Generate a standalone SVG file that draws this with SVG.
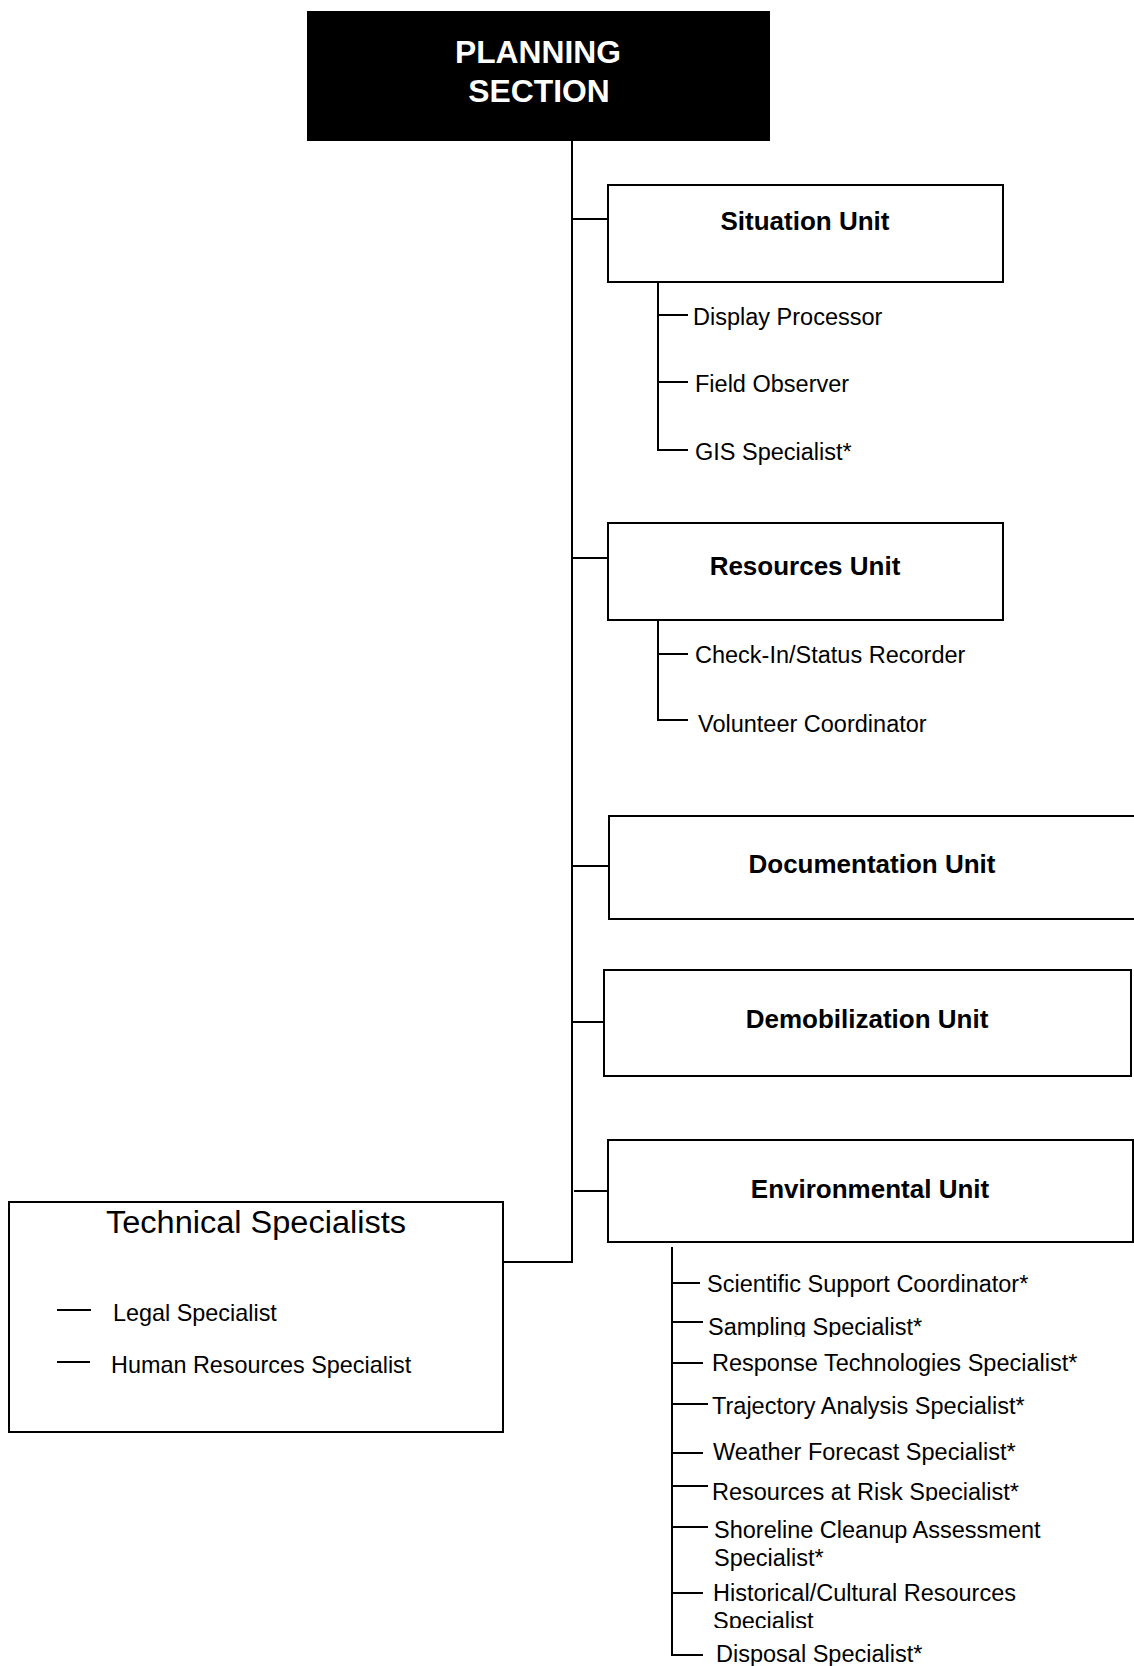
<svg xmlns="http://www.w3.org/2000/svg" width="1134" height="1666" viewBox="0 0 1134 1666">
<style>
.box{fill:#fff;stroke:#000;stroke-width:2}
.ln{stroke:#000;stroke-width:2;fill:none}
.t{font-family:"Liberation Sans",Arial,sans-serif;font-size:23.5px;fill:#000}
.u{font-family:"Liberation Sans",Arial,sans-serif;font-size:26px;font-weight:bold;fill:#000;text-anchor:middle}
.h{font-family:"Liberation Sans",Arial,sans-serif;font-size:31.8px;font-weight:bold;fill:#fff;text-anchor:middle}
</style>
<defs>
<clipPath id="c1"><rect x="600" y="1300" width="534" height="37"/></clipPath>
<clipPath id="c2"><rect x="600" y="1470" width="534" height="31"/></clipPath>
<clipPath id="c3"><rect x="600" y="1570" width="534" height="58"/></clipPath>
</defs>
<rect width="1134" height="1666" fill="#fff"/>
<g id="connectors">
<line class="ln" x1="572" y1="141" x2="572" y2="1263"/>
<line class="ln" x1="572" y1="219" x2="608" y2="219"/>
<line class="ln" x1="572" y1="558" x2="608" y2="558"/>
<line class="ln" x1="572" y1="866" x2="609" y2="866"/>
<line class="ln" x1="572" y1="1022" x2="604" y2="1022"/>
<line class="ln" x1="574" y1="1191" x2="608" y2="1191"/>
<line class="ln" x1="503" y1="1262" x2="573" y2="1262"/>
<path class="ln" d="M658 282V450H688M658 315H688M658 382H688"/>
<path class="ln" d="M658 620V720H688M658 654H688"/>
<path class="ln" d="M672 1247V1655H703M672 1283H700M672 1322H703M672 1363H703M672 1404H708M672 1453H703M672 1486H708M672 1527H708M672 1593H703"/>
</g>
<g id="planning">
<rect x="307" y="11" width="463" height="130" fill="#000"/>
<text class="h" x="538" y="63">PLANNING</text>
<text class="h" x="539" y="102">SECTION</text>
</g>
<g id="situation">
<rect class="box" x="608" y="185" width="395" height="97"/>
<text class="u" x="805" y="230">Situation Unit</text>
</g>
<g id="situation-staff">
<text class="t" x="693" y="325">Display Processor</text>
<text class="t" x="695" y="392">Field Observer</text>
<text class="t" x="695" y="460">GIS Specialist*</text>
</g>
<g id="resources">
<rect class="box" x="608" y="523" width="395" height="97"/>
<text class="u" x="805" y="575">Resources Unit</text>
</g>
<g id="resources-staff">
<text class="t" x="695" y="663">Check-In/Status Recorder</text>
<text class="t" x="698" y="732">Volunteer Coordinator</text>
</g>
<g id="documentation">
<rect class="box" x="609" y="816" width="540" height="103"/>
<text class="u" x="872" y="873">Documentation Unit</text>
</g>
<g id="demobilization">
<rect class="box" x="604" y="970" width="527" height="106"/>
<text class="u" x="867" y="1028">Demobilization Unit</text>
</g>
<g id="environmental">
<rect class="box" x="608" y="1140" width="525" height="102"/>
<text class="u" x="870" y="1198">Environmental Unit</text>
</g>
<g id="environmental-staff">
<text class="t" x="707" y="1292">Scientific Support Coordinator*</text>
<text class="t" x="708" y="1335" clip-path="url(#c1)">Sampling Specialist*</text>
<text class="t" x="712" y="1371">Response Technologies Specialist*</text>
<text class="t" x="712" y="1414">Trajectory Analysis Specialist*</text>
<text class="t" x="713" y="1460">Weather Forecast Specialist*</text>
<text class="t" x="712" y="1500" clip-path="url(#c2)">Resources at Risk Specialist*</text>
<text class="t" x="714" y="1538">Shoreline Cleanup Assessment</text>
<text class="t" x="714" y="1566">Specialist*</text>
<text class="t" x="713" y="1601">Historical/Cultural Resources</text>
<text class="t" x="713" y="1629" clip-path="url(#c3)">Specialist</text>
<text class="t" x="716" y="1662">Disposal Specialist*</text>
</g>
<g id="technical">
<rect class="box" x="9" y="1202" width="494" height="230"/>
<text class="t" x="256" y="1233" style="font-size:31px;text-anchor:middle" textLength="300" lengthAdjust="spacingAndGlyphs">Technical Specialists</text>
<line class="ln" x1="57" y1="1310" x2="91" y2="1310"/>
<line class="ln" x1="57" y1="1362" x2="90" y2="1362"/>
<text class="t" x="113" y="1321" style="font-size:23.4px">Legal Specialist</text>
<text class="t" x="111" y="1373" style="font-size:23.4px">Human Resources Specialist</text>
</g>
</svg>
